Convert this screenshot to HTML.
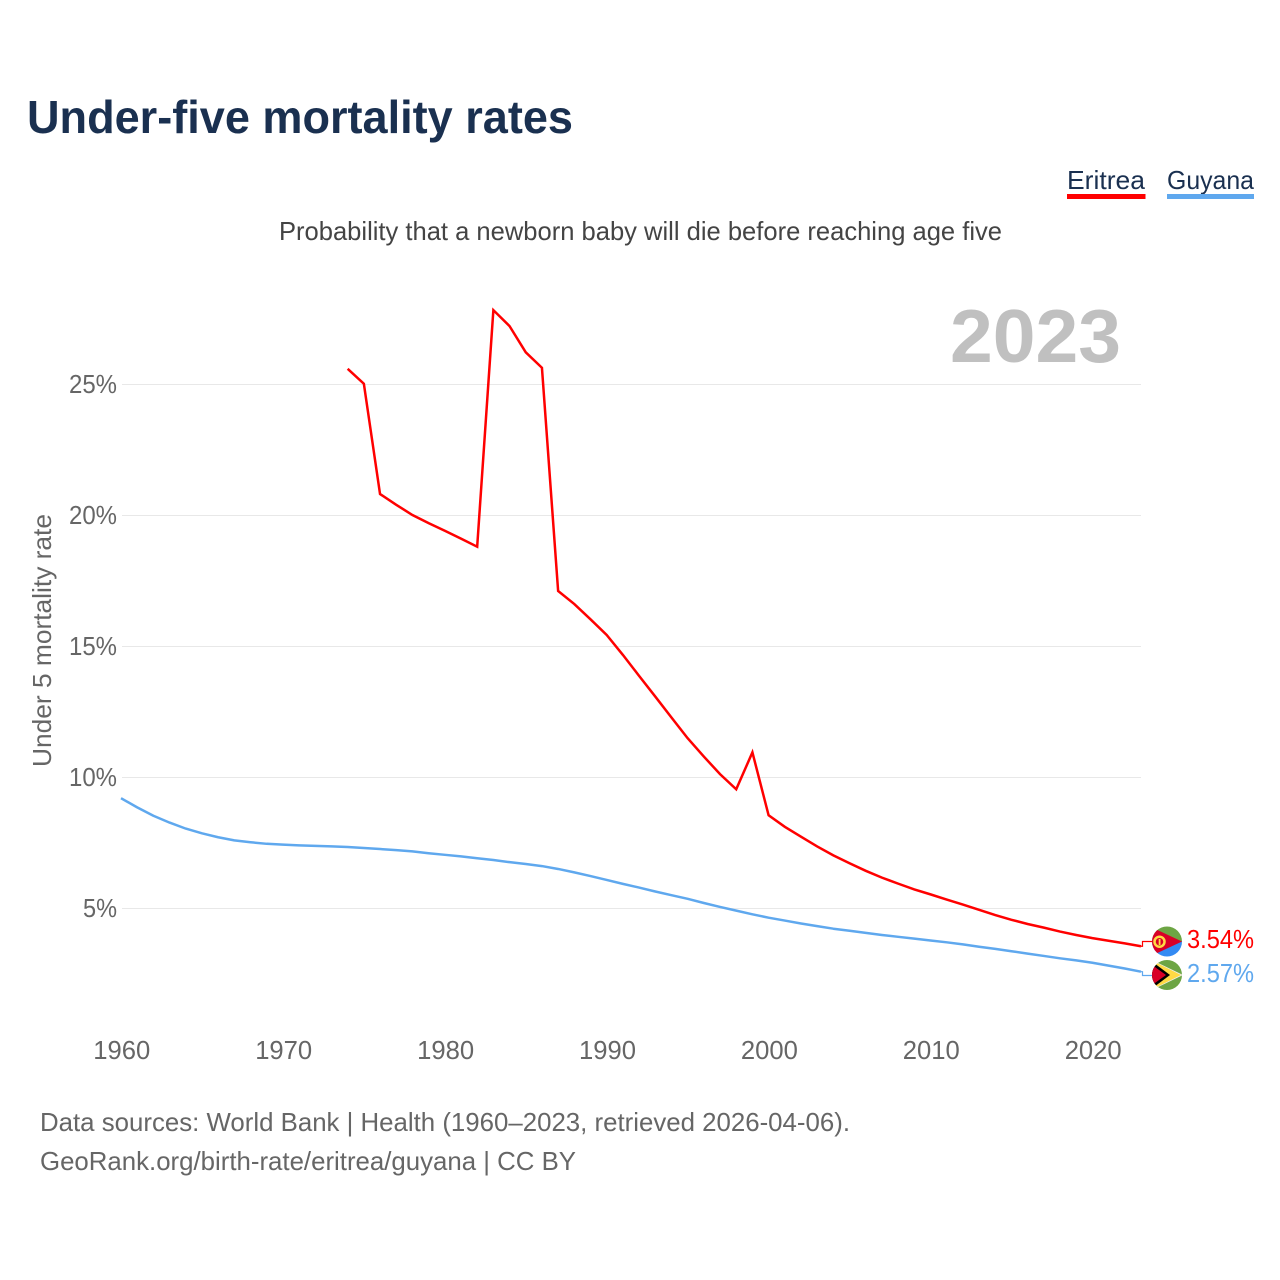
<!DOCTYPE html>
<html lang="en">
<head>
<meta charset="utf-8">
<title>Under-five mortality rates</title>
<style>
html,body{margin:0;padding:0;background:#fff}
svg{display:block}
text{font-family:"Liberation Sans",sans-serif}
</style>
</head>
<body>
<svg id="chart" xmlns="http://www.w3.org/2000/svg" width="1280" height="1280" viewBox="0 0 1280 1280">
  <rect width="1280" height="1280" fill="#fff"/>
  <text x="27" y="133" font-size="46" font-weight="700" fill="#1a3050" textLength="546" lengthAdjust="spacingAndGlyphs">Under-five mortality rates</text>
  <text x="1067" y="189" font-size="26" fill="#1a3050" textLength="78" lengthAdjust="spacingAndGlyphs">Eritrea</text>
  <rect x="1067" y="194" width="78.500" height="5" fill="#ff0000"/>
  <text x="1167" y="189" font-size="26" fill="#1a3050" textLength="87" lengthAdjust="spacingAndGlyphs">Guyana</text>
  <rect x="1167" y="194" width="87" height="5" fill="#5fa8ee"/>
  <text x="279" y="240" font-size="26" fill="#444" textLength="723" lengthAdjust="spacingAndGlyphs">Probability that a newborn baby will die before reaching age five</text>
  <text x="950" y="362" font-size="75" font-weight="700" fill="#c0c0c0" textLength="171" lengthAdjust="spacingAndGlyphs">2023</text>
  <text transform="translate(51,767) rotate(-90)" font-size="26" fill="#666" textLength="253" lengthAdjust="spacingAndGlyphs">Under 5 mortality rate</text>
  <g id="grid"></g>
  <g id="yticks"></g>
  <g id="xticks"></g>
  <g id="series"></g>
  <g id="connectors"></g>
  <defs>
    <clipPath id="clip-er"><circle cx="1167" cy="941.500" r="15"/></clipPath>
    <clipPath id="clip-gy"><circle cx="1167" cy="975" r="15"/></clipPath>
  </defs>
  <g clip-path="url(#clip-er)">
    <rect x="1152" y="926" width="30" height="16" fill="#6da544"/>
    <rect x="1152" y="941.500" width="30" height="16" fill="#338af3"/>
    <polygon points="1151,927 1182,941.500 1151,956" fill="#d80027"/>
    <circle cx="1159.500" cy="941.700" r="5" fill="none" stroke="#ffda44" stroke-width="2.500"/>
    <rect x="1158.700" y="939" width="1.800" height="6" fill="#ffda44"/>
  </g>
  <g clip-path="url(#clip-gy)">
    <rect x="1152" y="960" width="30" height="30" fill="#6da544"/>
    <polygon points="1153,960.500 1183,975 1153,989.500" fill="#f0f0f0"/>
    <polygon points="1155,962 1181,975 1155,988" fill="#ffda44"/>
    <polygon points="1150,960 1170,975 1150,990" fill="#000"/>
    <polygon points="1148,962 1166,975 1148,988" fill="#d80027"/>
  </g>
  <g id="endlabels"></g>
  <text x="40" y="1131" font-size="26" fill="#666" textLength="810" lengthAdjust="spacingAndGlyphs">Data sources: World Bank | Health (1960–2023, retrieved 2026-04-06).</text>
  <text x="40" y="1170" font-size="26" fill="#666" textLength="536" lengthAdjust="spacingAndGlyphs">GeoRank.org/birth-rate/eritrea/guyana | CC BY</text>
</svg>
<script>
var yTickValues = [5, 10, 15, 20, 25];
var xTickYears = [1960, 1970, 1980, 1990, 2000, 2010, 2020];
var eritreaStartYear = 1974;
var eritreaValues = [25.58, 25.01, 20.80, 20.39, 20.0, 19.69, 19.40, 19.10, 18.79, 27.82, 27.21, 26.21, 25.62, 17.10, 16.60, 16.02, 15.42, 14.66, 13.86, 13.07, 12.27, 11.48, 10.78, 10.11, 9.53, 10.94, 8.54, 8.10, 7.72, 7.35, 7.01, 6.71, 6.42, 6.16, 5.93, 5.71, 5.52, 5.32, 5.13, 4.93, 4.73, 4.55, 4.39, 4.25, 4.10, 3.97, 3.85, 3.75, 3.65, 3.54];
var guyanaStartYear = 1960;
var guyanaValues = [9.19, 8.84, 8.52, 8.26, 8.03, 7.85, 7.70, 7.58, 7.51, 7.45, 7.42, 7.39, 7.37, 7.35, 7.33, 7.29, 7.25, 7.21, 7.16, 7.09, 7.03, 6.97, 6.90, 6.83, 6.75, 6.68, 6.60, 6.49, 6.36, 6.22, 6.07, 5.92, 5.78, 5.63, 5.49, 5.35, 5.19, 5.04, 4.90, 4.76, 4.63, 4.52, 4.41, 4.31, 4.21, 4.13, 4.05, 3.97, 3.90, 3.83, 3.76, 3.69, 3.61, 3.52, 3.44, 3.35, 3.26, 3.17, 3.08, 3.00, 2.91, 2.80, 2.69, 2.57];
var endLabels = ["3.54%", "2.57%"];

var NS = "http://www.w3.org/2000/svg";
function xScale(year) { return 121 + (year - 1960) * 16.19; }
function yScale(v) { return 1039 - v * 26.2; }
function make(tag, attrs, parent) {
  var el = document.createElementNS(NS, tag);
  for (var k in attrs) el.setAttribute(k, attrs[k]);
  parent.appendChild(el);
  return el;
}
function linePoints(startYear, values) {
  return values.map(function (v, i) {
    return xScale(startYear + i).toFixed(2) + "," + yScale(v).toFixed(2);
  }).join(" ");
}

var gridG = document.getElementById("grid");
var yG = document.getElementById("yticks");
yTickValues.forEach(function (v) {
  var gy = Math.floor(yScale(v)) + 0.5;
  var line = make("line", { x1: 122, x2: 1141, y1: gy, y2: gy, stroke: "#e8e8e8", "stroke-width": 1 }, gridG);
  
  
  var label = v + "%";
  var t = make("text", { x: 117, y: gy + 8.5, "text-anchor": "end", "font-size": 26, fill: "#666", textLength: 14 * label.length + 6, lengthAdjust: "spacingAndGlyphs" }, yG);
  
  
  t.textContent = label;
});

var xG = document.getElementById("xticks");
xTickYears.forEach(function (year) {
  var t = make("text", { x: xScale(year) + 0.8, y: 1059, "text-anchor": "middle", "font-size": 26, fill: "#666", textLength: 57, lengthAdjust: "spacingAndGlyphs" }, xG);
  
  
  t.textContent = year;
});

var seriesG = document.getElementById("series");
var guyanaLine = make("polyline", { points: linePoints(guyanaStartYear, guyanaValues), fill: "none", stroke: "#5fa8ee", "stroke-width": 2.5, "stroke-linejoin": "round" }, seriesG);


var eritreaLine = make("polyline", { points: linePoints(eritreaStartYear, eritreaValues), fill: "none", stroke: "#ff0000", "stroke-width": 2.5, "stroke-linejoin": "miter" }, seriesG);



var lastX = xScale(2023);
var erY = yScale(eritreaValues[eritreaValues.length - 1]);
var gyY = yScale(guyanaValues[guyanaValues.length - 1]);
var connG = document.getElementById("connectors");
var endG = document.getElementById("endlabels");
var erConn = make("polyline", { points: lastX + "," + erY + " 1142.5," + erY + " 1142.5,941.5 1152,941.5", fill: "none", stroke: "#ff0000", "stroke-width": 1.2 }, connG);


var gyConn = make("polyline", { points: lastX + "," + gyY + " 1142.5," + gyY + " 1142.5,975.5 1152,975.5", fill: "none", stroke: "#5fa8ee", "stroke-width": 1.2 }, connG);


var erLabel = make("text", { x: 1187, y: 948, "font-size": 26, fill: "#ff0000", textLength: 67, lengthAdjust: "spacingAndGlyphs" }, endG);


erLabel.textContent = endLabels[0];
var gyLabel = make("text", { x: 1187, y: 982, "font-size": 26, fill: "#5fa8ee", textLength: 67, lengthAdjust: "spacingAndGlyphs" }, endG);


gyLabel.textContent = endLabels[1];
</script>
</body>
</html>
